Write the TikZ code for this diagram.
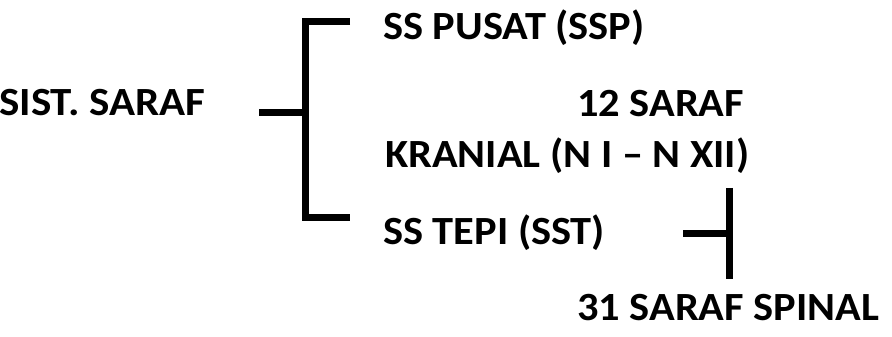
\documentclass[tikz,border=0pt]{standalone}
\usepackage{fontspec}
\usepackage{graphicx}
\setmainfont{Carlito}
\newcommand{\wtxt}[2][1.06]{\scalebox{#1}[1]{#2}}
\tikzset{
  lbl/.style={anchor=base west, inner sep=0pt, font=\fontsize{40}{42}\selectfont\bfseries},
  brk/.style={line width=7pt, line join=miter}
}
\begin{document}
\begin{tikzpicture}[x=1pt,y=1pt]
\useasboundingbox (0,0) rectangle (892,337);
\node[lbl] (sist) at (-1,221) {\wtxt[1.075]{SIST. SARAF}};
\node[lbl] (ssp) at (383,297) {\wtxt{SS PUSAT (SSP)}};
\node[lbl] (s12) at (577,220) {\wtxt{12 SARAF}};
\node[lbl] (kran) at (385,169) {\wtxt{KRANIAL (N I – N XII)}};
\node[lbl] (sst) at (383,92) {\wtxt{SS TEPI (SST)}};
\node[lbl] (s31) at (577,16) {\wtxt{31 SARAF SPINAL}};
\coordinate (a0) at (259,224);
\coordinate (a1) at (305.5,224);
\coordinate (t0) at (350,315);
\coordinate (t1) at (305.5,315);
\coordinate (b1) at (305.5,119);
\coordinate (b0) at (350,119);
\coordinate (c0) at (683,103);
\coordinate (c1) at (729,103);
\coordinate (v0) at (729,149);
\coordinate (v1) at (729,58);
\draw[brk] (a0) -- (a1);
\draw[brk] (t0) -- (t1) -- (b1) -- (b0);
\draw[brk] (c0) -- (c1);
\draw[brk] (v0) -- (v1);
\end{tikzpicture}
\end{document}
